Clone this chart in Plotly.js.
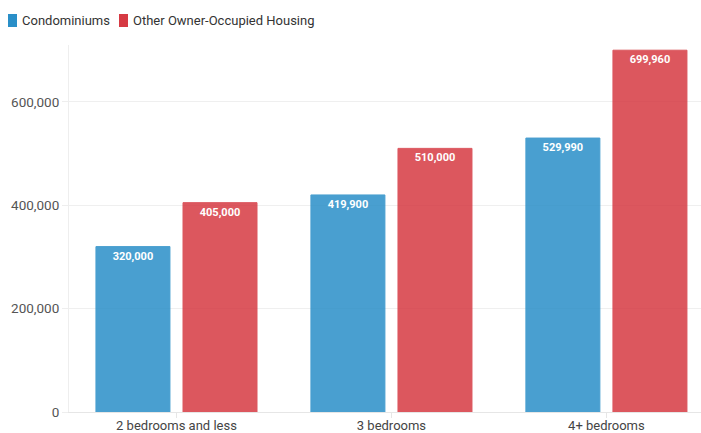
<!DOCTYPE html>
<html><head><meta charset="utf-8">
<script src="https://cdn.plot.ly/plotly-3.0.1.min.js"></script>
<style>html,body{margin:0;padding:0;background:#fff}#c{width:701px;height:433px}</style>
</head><body><div id="c"></div>
<script>
const categories = ["2 bedrooms and less", "3 bedrooms", "4+ bedrooms"];
const condoValues = [320000, 419900, 529990];
const otherValues = [405000, 510000, 699960];
const seriesNames = ["Condominiums", "Other Owner-Occupied Housing"];
const seriesColors = ['#2a8fc8', '#d63a43'];
const yTickVals = [0, 200000, 400000, 600000];
const yTickText = ["0", "200,000", "400,000", "600,000"];

const W = 701, H = 433, L = 69, R = 0, T = 45, B = 21;
const fmt = v => v.toLocaleString('en-US');
const mk = (name, vals, col) => ({
  type: 'bar', name: name, x: categories, y: vals,
  text: vals.map(fmt), textposition: 'inside', insidetextanchor: 'end',
  textfont: {family: 'Roboto', size: 11, color: '#fff', weight: 'bold'},
  marker: {color: col, opacity: 0.85, line: {color: col, width: 1}},
  hoverinfo: 'x+y', showlegend: false
});
const data = [
  mk(seriesNames[0], condoValues, seriesColors[0]),
  mk(seriesNames[1], otherValues, seriesColors[1])
];
// custom legend (pixel -> paper)
const px = x => (x - L) / (W - L - R);
const py = y => (H - B - y) / (H - T - B);
function rrect(x0, y0, x1, y1) {
  return `M ${x0},${y0} L ${x1},${y0} L ${x1},${y1} L ${x0},${y1} Z`;
}
const legendX = [8, 119];
const shapes = [], annotations = [];
seriesNames.forEach((n, i) => {
  const x0 = legendX[i];
  shapes.push({type: 'path', xref: 'paper', yref: 'paper', layer: 'above',
    path: rrect(px(x0), py(14), px(x0 + 9), py(27)),
    fillcolor: seriesColors[i], line: {width: 0}});
  annotations.push({xref: 'paper', yref: 'paper', x: px(x0 + 12), y: py(20.5),
    xanchor: 'left', yanchor: 'middle', showarrow: false, text: n,
    font: {family: 'Roboto', size: 13, color: '#333'}});
});
const layout = {
  width: W, height: H,
  margin: {l: L, r: R, t: T, b: B, pad: 0},
  font: {family: 'Roboto', size: 13, color: '#444'},
  barmode: 'group', bargap: 0.19, bargroupgap: 0.15,
  showlegend: false, shapes: shapes, annotations: annotations,
  xaxis: {type: 'category', range: [-0.5, 2.44], showgrid: false, showline: true,
    linecolor: '#e6e6e6', ticks: 'outside', ticklen: 5, tickcolor: '#e6e6e6',
    ticklabelstandoff: -4,
    tickfont: {size: 13, color: '#444'}, fixedrange: true},
  yaxis: {range: [0, 710000], tickvals: yTickVals, ticktext: yTickText,
    showgrid: true, gridcolor: '#efefef', zeroline: false, showline: true,
    linecolor: '#eeeeee', ticks: 'outside', ticklen: 6, tickcolor: '#eeeeee',
    tickfont: {size: 13.5, color: '#555'}},
  plot_bgcolor: '#fff', paper_bgcolor: '#fff'
};
Plotly.newPlot('c', data, layout, {displayModeBar: false, staticPlot: true});
</script></body></html>
